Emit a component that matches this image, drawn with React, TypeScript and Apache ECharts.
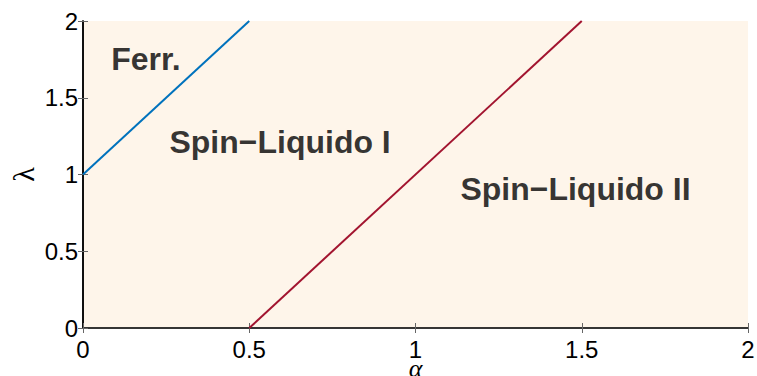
import React, { useEffect, useRef } from "react";
import * as echarts from "echarts";

const xTicks = [0, 0.5, 1, 1.5, 2];
const yTicks = [0, 0.5, 1, 1.5, 2];
const ferroBoundary: [number, number][] = [[0, 1], [0.5, 2]];
const liquidBoundary: [number, number][] = [[0.5, 0], [1.5, 2]];
const regionNames = ["Ferr.", "Spin\u2212Liquido I", "Spin\u2212Liquido II"];
const regionX = [0.085, 0.26, 1.135];
const regionY = [1.755, 1.21, 0.905];

export default function App() {
  const ref = useRef<HTMLDivElement>(null);
  useEffect(() => {
    if (!ref.current) return;
    const chart = echarts.init(ref.current, null, { renderer: "svg" });
    const tickFont = { fontFamily: "Liberation Sans, Arial, sans-serif", fontSize: 24, color: "#000" };
    const commonTick = { show: true, inside: true, length: 5, lineStyle: { color: "#666", width: 1 } };
    chart.setOption({
      animation: false,
      backgroundColor: "#fff",
      grid: {
        left: 83,
        right: 9,
        top: 21,
        bottom: 48,
        containLabel: false,
        outerBoundsMode: "none",
        show: true,
        backgroundColor: "#fef5ea",
        borderWidth: 0,
      },
      xAxis: [
        {
          type: "value",
          min: xTicks[0],
          max: xTicks[xTicks.length - 1],
          interval: 0.5,
          position: "bottom",
          axisLine: { show: true, lineStyle: { color: "#000", width: 1.5 } },
          axisTick: commonTick,
          splitLine: { show: false },
          axisLabel: { ...tickFont, margin: 11, lineHeight: 20, formatter: (v: number) => String(v) },
          name: "\u03b1",
          nameLocation: "middle",
          nameGap: 40,
          nameMoveOverlap: false,
          nameTextStyle: {
            fontFamily: "Liberation Serif, serif",
            fontStyle: "italic",
            fontSize: 26,
            color: "#000",
            verticalAlign: "middle",
            lineHeight: 14,
          },
        },
        {
          type: "value",
          min: xTicks[0],
          max: xTicks[xTicks.length - 1],
          interval: 0.5,
          position: "top",
          axisLine: { show: true, lineStyle: { color: "#333", width: 1.5 } },
          axisTick: commonTick,
          splitLine: { show: false },
          axisLabel: { show: false },
        },
      ],
      yAxis: [
        {
          type: "value",
          min: yTicks[0],
          max: yTicks[yTicks.length - 1],
          interval: 0.5,
          position: "left",
          axisLine: { show: true, lineStyle: { color: "#000", width: 1.5 } },
          axisTick: commonTick,
          splitLine: { show: false },
          axisLabel: { ...tickFont, margin: 5, formatter: (v: number) => String(v) },
          name: "\u03bb",
          nameLocation: "middle",
          nameGap: 45,
          nameMoveOverlap: false,
          nameRotate: 90,
          nameTextStyle: { fontFamily: "Liberation Serif, serif", fontSize: 30, color: "#000" },
        },
        {
          type: "value",
          min: yTicks[0],
          max: yTicks[yTicks.length - 1],
          interval: 0.5,
          position: "right",
          axisLine: { show: true, lineStyle: { color: "#000", width: 1.5 } },
          axisTick: commonTick,
          splitLine: { show: false },
          axisLabel: { show: false },
        },
      ],
      series: [
        {
          type: "line",
          data: ferroBoundary,
          showSymbol: false,
          silent: true,
          lineStyle: { color: "#0072bd", width: 2 },
        },
        {
          type: "line",
          data: liquidBoundary,
          showSymbol: false,
          silent: true,
          lineStyle: { color: "#a2142f", width: 2 },
        },
        {
          type: "scatter",
          symbolSize: 0,
          silent: true,
          data: regionNames.map((n, i) => [regionX[i], regionY[i], n]),
          label: {
            show: true,
            position: "right",
            distance: 0,
            formatter: (p: any) => p.value[2],
            fontFamily: "Liberation Sans, Arial, sans-serif",
            fontWeight: "bold",
            fontSize: 32,
            color: "#000",
          },
        },
      ],
    });
    return () => chart.dispose();
  }, []);
  return (
    <div
      ref={ref}
      style={{ position: "fixed", left: 0, top: 0, width: 757, height: 376 }}
    />
  );
}
